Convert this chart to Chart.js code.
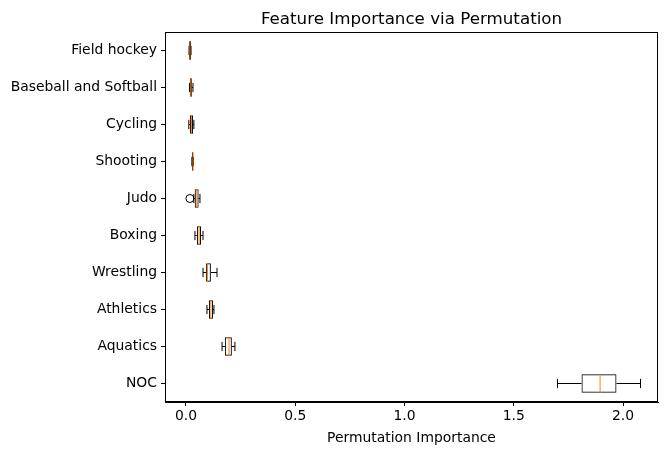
<!DOCTYPE html>
<html>
<head>
<meta charset="utf-8">
<script src="https://cdn.jsdelivr.net/npm/chart.js@4"></script>
<style>
  body { margin: 0; background: #fff; }
  #wrap { width: 672px; height: 455px; }
</style>
</head>
<body>
<div id="wrap"><canvas id="chart"></canvas></div>
<script>
// categorias (de cima para baixo)
const features = ['Field hockey', 'Baseball and Softball', 'Cycling', 'Shooting', 'Judo',
                  'Boxing', 'Wrestling', 'Athletics', 'Aquatics', 'NOC'];
const whiskerLow = [0.014, 0.016, 0.013, 0.027, 0.036, 0.041, 0.078, 0.096, 0.165, 1.70];
const q1 =         [0.014, 0.018, 0.018, 0.027, 0.040, 0.050, 0.092, 0.105, 0.178, 1.81];
const medians =    [0.018, 0.022, 0.025, 0.032, 0.050, 0.060, 0.098, 0.114, 0.197, 1.895];
const q3 =         [0.023, 0.027, 0.032, 0.034, 0.058, 0.069, 0.114, 0.124, 0.210, 1.97];
const whiskerHigh =[0.023, 0.032, 0.036, 0.034, 0.064, 0.078, 0.142, 0.128, 0.224, 2.08];
const outliers =   [[], [], [], [], [0.018], [], [], [], [], []];
const xTicks = [0, 0.5, 1.0, 1.5, 2.0];
const chartTitle = 'Feature Importance via Permutation';

// desenha bigodes, medianas, outliers, moldura e título centrado no eixo
const boxPlugin = {
  id: 'boxExtras',
  afterDatasetsDraw(chart) {
    const ctx = chart.ctx;
    const x = chart.scales.x, y = chart.scales.y;
    const meta = chart.getDatasetMeta(0);
    ctx.save();
    features.forEach((f, i) => {
      const cy = y.getPixelForValue(i);
      const h = meta.data[i].height;
      const cap = h / 4;
      ctx.strokeStyle = '#000';
      ctx.lineWidth = 1;
      ctx.beginPath();
      ctx.moveTo(x.getPixelForValue(whiskerLow[i]), cy);
      ctx.lineTo(x.getPixelForValue(q1[i]), cy);
      ctx.moveTo(x.getPixelForValue(q3[i]), cy);
      ctx.lineTo(x.getPixelForValue(whiskerHigh[i]), cy);
      [whiskerLow[i], whiskerHigh[i]].forEach(v => {
        const px = x.getPixelForValue(v);
        ctx.moveTo(px, cy - cap);
        ctx.lineTo(px, cy + cap);
      });
      ctx.stroke();
      ctx.strokeStyle = '#ff7f0e';
      ctx.beginPath();
      const mx = x.getPixelForValue(medians[i]);
      ctx.moveTo(mx, cy - h / 2);
      ctx.lineTo(mx, cy + h / 2);
      ctx.stroke();
      ctx.strokeStyle = '#000';
      outliers[i].forEach(v => {
        ctx.beginPath();
        ctx.arc(x.getPixelForValue(v), cy, 4, 0, Math.PI * 2);
        ctx.stroke();
      });
    });
    const a = chart.chartArea;
    ctx.strokeStyle = '#000';
    ctx.strokeRect(a.left + 0.5, a.top + 0.5, a.right - a.left - 1, a.bottom - a.top - 1);
    ctx.fillStyle = '#000';
    ctx.font = '16.7px "DejaVu Sans"';
    ctx.textAlign = 'center';
    ctx.textBaseline = 'alphabetic';
    ctx.fillText(chartTitle, (a.left + a.right) / 2, a.top - 8);
    ctx.restore();
  }
};

new Chart(document.getElementById('chart'), {
  type: 'bar',
  data: {
    labels: features,
    datasets: [{
      data: features.map((f, i) => [q1[i], q3[i]]),
      backgroundColor: 'rgba(255,255,255,0)',
      borderColor: '#000',
      borderWidth: 1,
      borderSkipped: false,
      barPercentage: 0.5,
      categoryPercentage: 1.0
    }]
  },
  options: {
    indexAxis: 'y',
    responsive: true,
    maintainAspectRatio: false,
    animation: false,
    layout: { padding: { top: 32, right: 14, bottom: 8 } },
    plugins: {
      legend: { display: false },
      tooltip: { enabled: false },
      title: { display: false }
    },
    scales: {
      x: {
        min: -0.096, max: 2.16,
        afterBuildTicks: s => { s.ticks = xTicks.map(v => ({ value: v })); },
        afterFit: s => { s.height = 45; },
        ticks: { color: '#000', font: { family: 'DejaVu Sans', size: 13.9 }, callback: v => v.toFixed(1), maxRotation: 0, padding: 2 },
        grid: { drawOnChartArea: false, color: '#000', tickLength: 4 },
        border: { color: '#000' },
        title: { display: true, text: 'Permutation Importance', color: '#000', font: { family: 'DejaVu Sans', size: 13.9 }, padding: 0 }
      },
      y: {
        afterFit: s => { s.width = 165; },
        ticks: { color: '#000', font: { family: 'DejaVu Sans', size: 13.9 }, padding: 4 },
        grid: { drawOnChartArea: false, color: '#000', tickLength: 4, offset: false },
        border: { color: '#000' }
      }
    }
  },
  plugins: [boxPlugin]
});
</script>
</body>
</html>
